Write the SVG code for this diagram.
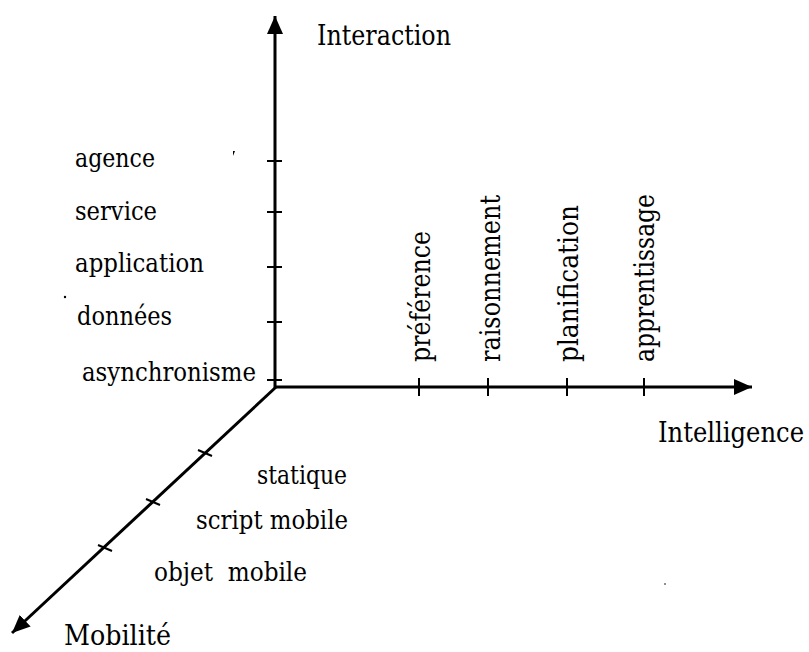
<svg xmlns="http://www.w3.org/2000/svg" width="809" height="652" viewBox="0 0 809 652">
<defs>
<marker id="arr" markerUnits="userSpaceOnUse" markerWidth="20" markerHeight="20" viewBox="0 0 20 20" refX="18" refY="10" orient="auto">
<path d="M0,2 L18,10 L0,18 Z" fill="#000"/>
</marker>
</defs>
<style>
.ax{stroke:#000;stroke-width:3;fill:none}
.tk{stroke:#000;stroke-width:2;fill:none}
.t{font-size:27.5px}
.l{font-size:26px}
.r{font-size:27.5px}
</style>
<rect width="809" height="652" fill="#fff"/>
<g id="connectors">
<line id="axis-interaction" class="ax" x1="275" y1="389" x2="275" y2="16" marker-end="url(#arr)"/>
<line id="axis-intelligence" class="ax" x1="274" y1="387" x2="752" y2="387" marker-end="url(#arr)"/>
<line id="axis-mobilite" class="ax" x1="275" y1="388" x2="12" y2="633" marker-end="url(#arr)"/>
</g>
<g id="ticks">
<line class="tk" x1="267" y1="161" x2="282" y2="161"/>
<line class="tk" x1="267" y1="212" x2="282" y2="212"/>
<line class="tk" x1="267" y1="267" x2="282" y2="267"/>
<line class="tk" x1="267" y1="322" x2="282" y2="322"/>
<line class="tk" x1="267" y1="380" x2="282" y2="380"/>
<line class="tk" x1="419" y1="378" x2="419" y2="396"/>
<line class="tk" x1="488" y1="378" x2="488" y2="396"/>
<line class="tk" x1="567" y1="378" x2="567" y2="396"/>
<line class="tk" x1="644" y1="378" x2="644" y2="396"/>
<line class="tk" x1="198" y1="450" x2="212" y2="456"/>
<line class="tk" x1="146" y1="499" x2="160" y2="505"/>
<line class="tk" x1="98" y1="545" x2="112" y2="551"/>
</g>
<g font-family="'DejaVu Serif Condensed', 'DejaVu Serif', serif" fill="#000">
<g id="interaction"><text class="t" x="317" y="45" textLength="134" lengthAdjust="spacingAndGlyphs">Interaction</text></g>
<g id="intelligence"><text class="t" x="658" y="442" textLength="146" lengthAdjust="spacingAndGlyphs">Intelligence</text></g>
<g id="mobilite"><text class="t" x="64" y="645" textLength="107" lengthAdjust="spacingAndGlyphs">Mobilité</text></g>
<g id="agence"><text class="l" x="75" y="167" textLength="80" lengthAdjust="spacingAndGlyphs">agence</text></g>
<g id="service"><text class="l" x="75" y="220" textLength="82" lengthAdjust="spacingAndGlyphs">service</text></g>
<g id="application"><text class="l" x="75" y="272" textLength="129" lengthAdjust="spacingAndGlyphs">application</text></g>
<g id="donnees"><text class="l" x="77" y="325" textLength="95" lengthAdjust="spacingAndGlyphs">données</text></g>
<g id="asynchronisme"><text class="l" x="82" y="381" textLength="174" lengthAdjust="spacingAndGlyphs">asynchronisme</text></g>
<g id="preference"><text class="r" transform="translate(430,362) rotate(-90)" textLength="131" lengthAdjust="spacingAndGlyphs">préférence</text></g>
<g id="raisonnement"><text class="r" transform="translate(500,362) rotate(-90)" textLength="167" lengthAdjust="spacingAndGlyphs">raisonnement</text></g>
<g id="planification"><text class="r" transform="translate(578,362) rotate(-90)" textLength="157" lengthAdjust="spacingAndGlyphs">planification</text></g>
<g id="apprentissage"><text class="r" transform="translate(654,362) rotate(-90)" textLength="168" lengthAdjust="spacingAndGlyphs">apprentissage</text></g>
<g id="statique"><text class="l" x="257" y="484" textLength="90" lengthAdjust="spacingAndGlyphs">statique</text></g>
<g id="script-mobile"><text class="l" x="196" y="529" textLength="152" lengthAdjust="spacingAndGlyphs">script mobile</text></g>
<g id="objet-mobile"><text class="l" x="154" y="581" xml:space="preserve" textLength="153" lengthAdjust="spacingAndGlyphs">objet  mobile</text></g>
</g>
<g id="specks" fill="#000">
<path d="M233,151 L235,151 L233,156 Z"/>
<circle cx="65" cy="297" r="1.2"/>
<circle cx="665" cy="584" r="0.8"/>
</g>
</svg>
